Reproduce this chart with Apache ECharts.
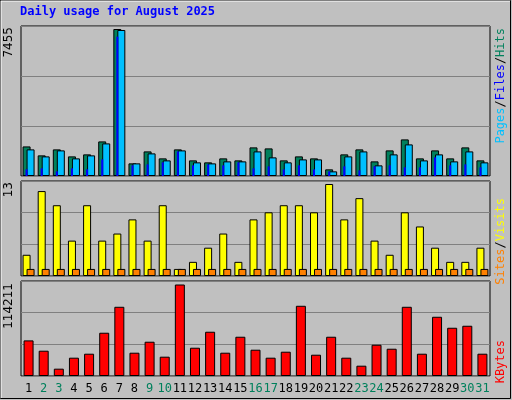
<!DOCTYPE html>
<html><head><meta charset="utf-8">
<script src="https://cdn.jsdelivr.net/npm/echarts@6/dist/echarts.min.js"></script>
<style>html,body{margin:0;padding:0;background:#C0C0C0}#c{width:512px;height:400px}</style>
</head><body><div id="c"></div>
<script>
const days = ['1','2','3','4','5','6','7','8','9','10','11','12','13','14','15','16','17','18','19','20','21','22','23','24','25','26','27','28','29','30','31'];
const weekend = ['2','3','9','10','16','17','23','24','30','31'];
const hits = [1500,1046,1350,995,1097,1754,7455,641,1248,894,1350,793,692,894,793,1451,1400,793,995,894,337,1097,1350,742,1299,1856,894,1299,894,1451,793];
const files = [1350,995,1299,894,1046,1653,7405,641,1147,793,1299,692,641,742,742,1248,945,692,843,843,236,995,1248,540,1097,1603,793,1097,742,1248,692];
const pages = [337,388,236,388,337,843,7068,540,590,692,1248,540,590,540,692,388,489,337,540,337,236,489,287,489,540,439,439,945,540,590,439];
const visits = [3,12,10,5,10,5,6,8,5,10,1,2,4,6,2,8,9,10,10,9,13,8,11,5,3,9,7,4,2,2,4];
const sites = [1,1,1,1,1,1,1,1,1,1,1,1,1,1,1,1,1,1,1,1,1,1,1,1,1,1,1,1,1,1,1];
const kbytes = [44440,31560,9140,22840,27830,53990,86380,29070,42780,24090,114211,35300,55240,29070,49010,32810,22840,30320,87630,26580,49010,22840,12870,39040,34050,86380,27830,73920,60220,62710,27830];
const maxLabels = ['7455','13','114211'];

const chart = echarts.init(document.getElementById('c'));
const grids = [{top:26,height:150},{top:181,height:95},{top:281,height:95}].map(g=>({left:21,right:22,top:g.top,height:g.height,show:true,backgroundColor:'#C0C0C0',borderColor:'#000',borderWidth:1}));
grids.push({left:21,right:22,top:26,height:150});
const maxes=[7455*150/147, 13*95/92, 114211*95/91.5];
function xa(i,showLbl){return {type:'category',data:days,gridIndex:i,axisTick:{show:false},axisLine:{show:false},
  axisLabel:{show:showLbl,fontFamily:'DejaVu Sans Mono',fontSize:12,margin:7,interval:0,color:v=>weekend.includes(v)?'#00805C':'#000'}};}
function ya(i,m){return {type:'value',gridIndex:i,min:0,max:m,interval:m/3,axisLabel:{show:false},axisLine:{show:false},axisTick:{show:false},splitLine:{lineStyle:{color:'#808080',width:1}}};}
const bs={borderColor:'#000',borderWidth:1};
chart.setOption({
  animation:false,
  backgroundColor:'#C0C0C0',
  grid:grids,
  xAxis:[xa(0,false),xa(1,false),xa(2,true),Object.assign(xa(3,false),{show:false})],
  yAxis:[ya(0,maxes[0]),ya(1,maxes[1]),ya(2,maxes[2]),Object.assign(ya(3,maxes[0]),{show:false,splitLine:{show:false}})],
  series:[
    {type:'bar',xAxisIndex:0,yAxisIndex:0,data:hits,barWidth:8,barGap:'-50%',itemStyle:Object.assign({color:'#00805C'},bs)},
    {type:'bar',xAxisIndex:0,yAxisIndex:0,data:files,barWidth:8,barGap:'-50%',itemStyle:Object.assign({color:'#00C0FF'},bs)},
    {type:'bar',xAxisIndex:3,yAxisIndex:3,data:pages,barWidth:2,barGap:0,z:5,itemStyle:{color:'#0000FF'}},
    {type:'bar',xAxisIndex:3,yAxisIndex:3,data:pages.map(()=>0),barWidth:4,barGap:0,itemStyle:{color:'transparent'}},
    {type:'bar',xAxisIndex:1,yAxisIndex:1,data:visits,barWidth:8,barGap:'-50%',itemStyle:Object.assign({color:'#FFFF00'},bs)},
    {type:'bar',xAxisIndex:1,yAxisIndex:1,data:sites,barWidth:8,barGap:'-50%',itemStyle:Object.assign({color:'#FF8000'},bs)},
    {type:'bar',xAxisIndex:2,yAxisIndex:2,data:kbytes,barWidth:10,itemStyle:Object.assign({color:'#FF0000'},bs)}
  ],
  graphic:[
    {type:'rect',shape:{x:0.5,y:0.5,width:510,height:398},style:{fill:'none',stroke:'#000',lineWidth:1},silent:true},
    {type:'polyline',shape:{points:[[1,398],[1,1],[510,1]]},style:{stroke:'#fff',lineWidth:1,fill:'none'}},
    {type:'text',left:20,top:6,style:{text:'Daily usage for August 2025',fill:'#0000FF',font:'bold 12px "DejaVu Sans Mono"'}},
    {type:'text',x:9,y:27,rotation:Math.PI/2,style:{text:maxLabels[0],fill:'#000',font:'12px "DejaVu Sans",sans-serif',align:'right',verticalAlign:'middle'}},
    {type:'text',x:9,y:182,rotation:Math.PI/2,style:{text:maxLabels[1],fill:'#000',font:'12px "DejaVu Sans",sans-serif',align:'right',verticalAlign:'middle'}},
    {type:'text',x:9,y:283,rotation:Math.PI/2,style:{text:maxLabels[2],fill:'#000',font:'12px "DejaVu Sans",sans-serif',align:'right',verticalAlign:'middle'}},
    {type:'text',x:501,y:28,rotation:Math.PI/2,style:{text:'{p|Pages}{s|/}{f|Files}{s|/}{h|Hits}',align:'right',verticalAlign:'middle',font:'12px "DejaVu Sans Mono"',
      rich:{p:{fill:'#00C0FF',font:'12px "DejaVu Sans Mono"'},s:{fill:'#000',font:'12px "DejaVu Sans Mono"'},f:{fill:'#0000FF',font:'12px "DejaVu Sans Mono"'},h:{fill:'#00805C',font:'12px "DejaVu Sans Mono"'}}}},
    {type:'text',x:501,y:198,rotation:Math.PI/2,style:{text:'{a|Sites}{s|/}{b|Visits}',align:'right',verticalAlign:'middle',font:'12px "DejaVu Sans Mono"',
      rich:{a:{fill:'#FF8000',font:'12px "DejaVu Sans Mono"'},s:{fill:'#000',font:'12px "DejaVu Sans Mono"'},b:{fill:'#FFFF00',font:'12px "DejaVu Sans Mono"'}}}},
    {type:'text',x:501,y:340,rotation:Math.PI/2,style:{text:'KBytes',fill:'#FF0000',align:'right',verticalAlign:'middle',font:'12px "DejaVu Sans Mono"'}}
  ]
});
</script></body></html>
